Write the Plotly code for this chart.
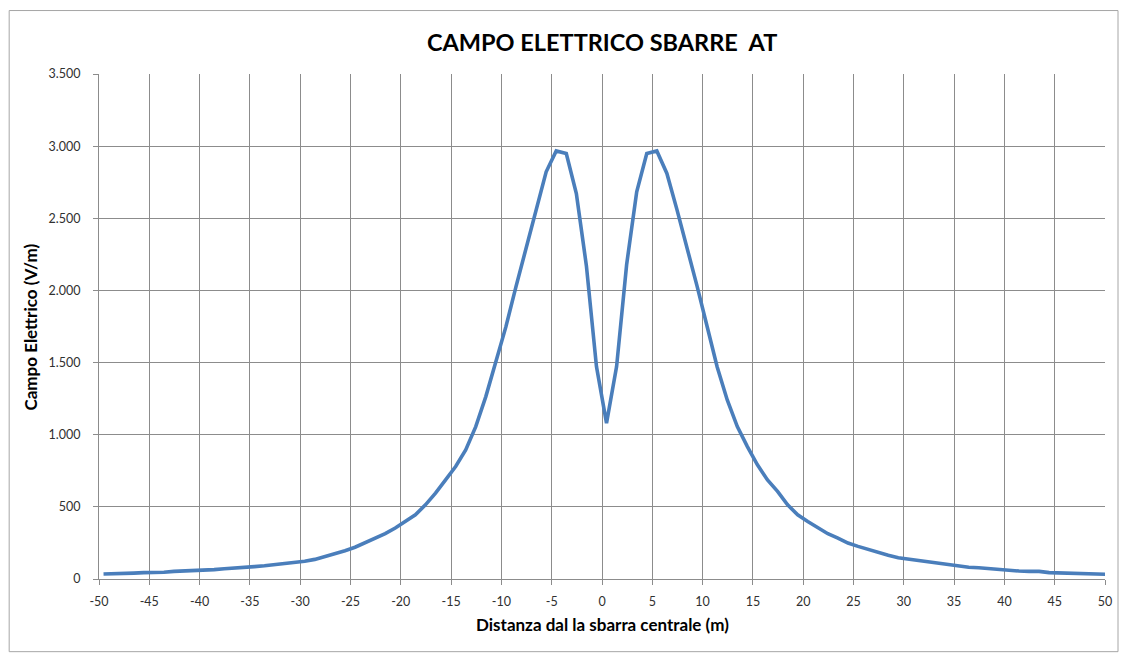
import plotly.graph_objects as go

# Distance from the central bar (m) - sample positions
distanza = [-49.55 + i for i in range(101)]

# Electric field (V/m)
campo = [
    35, 35, 36, 41, 44, 44, 47, 53, 55, 56,
    60, 65, 71, 78, 81, 86, 92, 99, 108, 115,
    123, 136, 154, 173, 196, 220, 252, 284, 314, 353,
    399, 445, 514, 595, 687, 780, 895, 1056, 1264, 1500,
    1749, 2026, 2290, 2570, 2822, 2967, 2949, 2672, 2170, 1472,
    1080,
    1472, 2180, 2684, 2949, 2967, 2811, 2560, 2300, 2030, 1750,
    1470, 1241, 1056, 918, 791, 687, 607, 514, 445, 399,
    353, 314, 284, 249, 226, 205, 182, 164, 147, 138,
    129, 118, 108, 97, 88, 81, 78, 71, 65, 60,
    55, 53, 53, 44, 41, 41, 39, 32, 32, 32,
]

x_ticks = list(range(-50, 51, 5))
y_ticks = list(range(0, 3501, 500))

title_text = "CAMPO ELETTRICO SBARRE \u00a0AT"
x_title = "Distanza dal la sbarra centrale (m)"
y_title = "Campo Elettrico (V/m)"

FONT = "Lato, 'Open Sans', 'DejaVu Sans', sans-serif"
GRID = "#8c8c8c"

fig = go.Figure()
fig.add_trace(go.Scatter(
    x=distanza, y=campo, mode="lines",
    line=dict(color="#4a7ebb", width=3.6),
    hoverinfo="x+y", showlegend=False,
))

OFF = 8  # default page body margin
W, H = 1121, 652
# plot area in page pixels: x 99.3..1105, y 74..579.3
L = 99.3 - OFF
T = 74 - OFF
R = W - (1105 - OFF)
B = H - (579.3 - OFF)
pw, ph = W - L - R, H - T - B

def px_to_paper_x(px):
    return (px - OFF - L) / pw

def px_to_paper_y(py):
    return (H - B - (py - OFF)) / ph

fig.update_layout(
    width=W, height=H,
    margin=dict(l=L, r=R, t=T, b=B, pad=0),
    paper_bgcolor="white", plot_bgcolor="white",
    separators=",.",
    font=dict(family=FONT, size=12, color="#404040"),
    xaxis=dict(
        range=[-50, 50], tickmode="array", tickvals=x_ticks,
        ticktext=[str(v) for v in x_ticks],
        showgrid=True, gridcolor=GRID, gridwidth=1,
        showline=True, linecolor=GRID, linewidth=1,
        ticks="outside", ticklen=5, tickcolor=GRID,
        ticklabelstandoff=6,
        zeroline=False, tickfont=dict(size=12.5, color="#303030"),
    ),
    yaxis=dict(
        range=[0, 3500], tickmode="array", tickvals=y_ticks,
        tickformat=",d",
        showgrid=True, gridcolor=GRID, gridwidth=1,
        showline=True, linecolor=GRID, linewidth=1,
        ticks="outside", ticklen=5, tickcolor=GRID,
        ticklabelstandoff=10,
        zeroline=False, tickfont=dict(size=12.5, color="#303030"),
    ),
    annotations=[
        dict(text="<b>" + title_text + "</b>", xref="paper", yref="paper",
             x=0.5, y=px_to_paper_y(42), xanchor="center", yanchor="middle",
             showarrow=False, font=dict(size=23.5, color="black", family=FONT)),
        dict(text="<b>" + x_title + "</b>", xref="paper", yref="paper",
             x=0.5, y=px_to_paper_y(625), xanchor="center", yanchor="middle",
             showarrow=False, font=dict(size=17, color="black", family=FONT)),
        dict(text="<b>" + y_title + "</b>", xref="paper", yref="paper",
             x=px_to_paper_x(31), y=px_to_paper_y(327), xanchor="center", yanchor="middle",
             textangle=-90, showarrow=False,
             font=dict(size=17, color="black", family=FONT)),
    ],
    shapes=[
        dict(type="rect", xref="paper", yref="paper",
             x0=px_to_paper_x(9.5), x1=px_to_paper_x(1118),
             y0=px_to_paper_y(652), y1=px_to_paper_y(10.5),
             line=dict(color="#a6a6a6", width=1), layer="below"),
    ],
)

fig.write_html("out.html")
